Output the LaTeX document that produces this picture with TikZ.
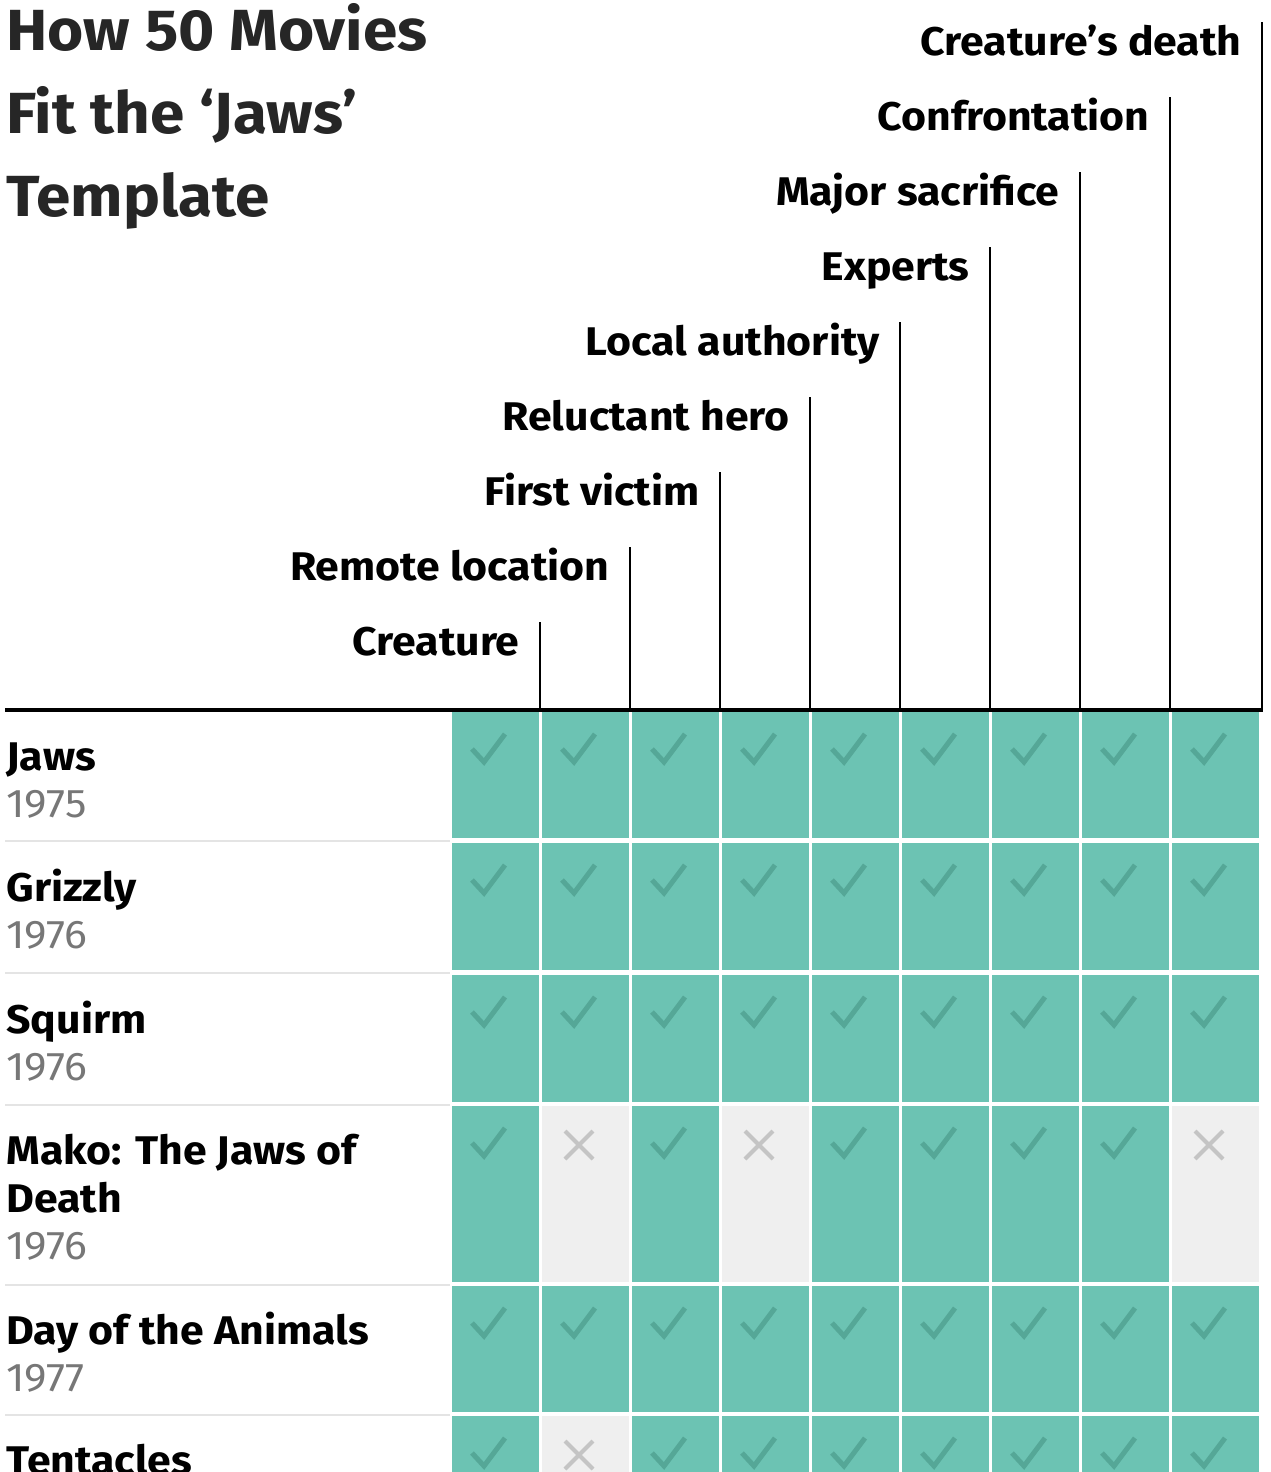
\documentclass[tikz,border=0pt]{standalone}
\usepackage{fontspec}
\setmainfont[FakeStretch=1.07]{Fira Sans}
\definecolor{teal}{HTML}{6CC3B3}
\definecolor{tick}{HTML}{55A797}
\definecolor{nocell}{HTML}{EFEFEF}
\definecolor{nomark}{HTML}{C4C4C4}
\definecolor{yr}{HTML}{777777}
\definecolor{sep}{HTML}{E4E4E4}
\begin{document}
\begin{tikzpicture}[x=0.5pt,y=-0.5pt,
  hdr/.style={anchor=base east,font=\fontsize{20}{24}\selectfont\bfseries,text=black,inner sep=0},
  ttl/.style={anchor=base west,font=\fontsize{29}{34}\selectfont\bfseries,text=black!85,inner sep=0},
  nm/.style={anchor=base west,font=\fontsize{20}{24}\selectfont\bfseries,inner sep=0},
  yrs/.style={anchor=base west,font=\fontsize{20}{24}\selectfont,text=yr,inner sep=0},
  ck/.style={draw=tick,line width=2.5pt},
  xx/.style={draw=nomark,line width=2pt}]
\useasboundingbox (0,0) rectangle (1270,1472);
\fill[white] (0,0) rectangle (1270,1472);
\node[ttl] (t1) at (6,50) {How 50 Movies};
\node[ttl] (t2) at (6,133) {Fit the ‘Jaws’};
\node[ttl] (t3) at (6,216) {Template};
% headers
\foreach \i/\lab in {0/Creature,1/Remote location,2/First victim,3/Reluctant hero,4/Local authority,5/Experts,6/Major sacrifice,7/Confrontation,8/Creature’s death}{
  \pgfmathsetmacro{\lx}{540+90*\i+(\i==8?2:0)}
  \pgfmathsetmacro{\ty}{622-75*\i}
  \node[hdr] (h\i) at (\lx-20,\ty+33) {\lab};
  \coordinate (hl\i) at (\lx,\ty);
  \coordinate (hb\i) at (\lx,710);
  \draw[line width=1.2pt] (hl\i) -- (hb\i);
}
% rows
\foreach \n/\y/\t/\b/\two [count=\r] in {Jaws/1975/712/838/0,Grizzly/1976/843/970/0,Squirm/1976/975/1102/0,{Mako: The Jaws of}/1976/1106/1282/1,{Day of the Animals}/1977/1286/1412/0,Tentacles/1977/1416/1560/0}{
  \node[nm] (n\r) at (6,\t+58) {\n};
  \ifnum\two=1
    \node[nm] (nn\r) at (6,\t+106) {Death};
    \node[yrs] (y\r) at (6,\t+153) {\y};
  \else
    \node[yrs] (y\r) at (6,\t+105) {\y};
  \fi
  \draw[sep,line width=1pt] (5,\b+3) -- (450,\b+3);
}
% cells
\foreach \t/\b/\p in {712/838/{1,1,1,1,1,1,1,1,1},843/970/{1,1,1,1,1,1,1,1,1},975/1102/{1,1,1,1,1,1,1,1,1},1106/1282/{1,0,1,0,1,1,1,1,0},1286/1412/{1,1,1,1,1,1,1,1,1},1416/1560/{1,0,1,1,1,1,1,1,1}}{
  \foreach \v [count=\c from 0] in \p {
    \pgfmathsetmacro{\x}{452+90*\c}
    \ifnum\v=1
      \fill[teal] (\x,\t) rectangle (\x+87,\b);
      \draw[ck] (\x+20,\t+37) -- (\x+32,\t+50) -- (\x+53,\t+22);
    \else
      \fill[nocell] (\x,\t) rectangle (\x+87,\b);
      \draw[xx] (\x+23,\t+25) -- (\x+51,\t+53) (\x+51,\t+25) -- (\x+23,\t+53);
    \fi
  }
}
\draw[line width=2pt] (5,710) -- (1263,710);
\end{tikzpicture}
\end{document}
